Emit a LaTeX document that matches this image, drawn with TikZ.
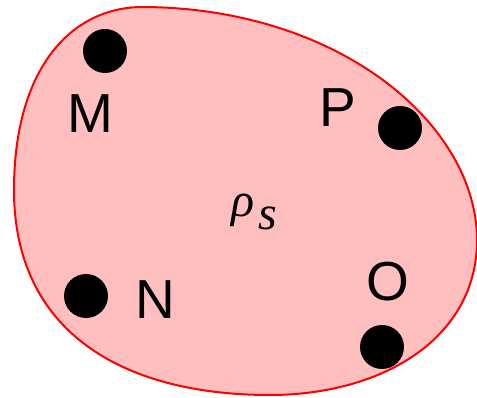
\documentclass[tikz,border=0pt]{standalone}
\usepackage{fontspec}
\setmainfont{Liberation Serif}
\newfontfamily\lsans{Liberation Sans}
\newfontfamily\lserif{Liberation Serif}
\begin{document}
\begin{tikzpicture}[x=1pt,y=-1pt,
  dot/.style={circle,fill=black,minimum size=44pt,inner sep=0pt},
  lab/.style={inner sep=0pt,font=\lsans\fontsize{55}{60}\selectfont},
  gk/.style={inner sep=0pt,font=\lserif\itshape\fontsize{48}{52}\selectfont}]
\useasboundingbox (0,0) rectangle (477,398);
\filldraw[draw=red,fill=red!25,line width=2pt]
  (143,7) .. controls (340,8) and (477,125) .. (477,240)
  .. controls (477,340) and (380,395) .. (270,395)
  .. controls (120,395) and (14,330) .. (14,190)
  .. controls (14,70) and (70,7) .. (143,7) -- cycle;
\node[dot] (m) at (105,51) {};
\node[dot] (p) at (400,128) {};
\node[dot] (n) at (86,296) {};
\node[dot] (o) at (382,347) {};
\node[lab] (ml) at (90,114) {M};
\node[lab] (pl) at (338,108) {P};
\node[lab] (nl) at (155,300) {N};
\node[lab] (ol) at (388,282) {O};
\node[gk,anchor=base] (rho) at (243,217) {ρ};
\node[gk,anchor=base] (s) at (268,230) {s};
\end{tikzpicture}
\end{document}
